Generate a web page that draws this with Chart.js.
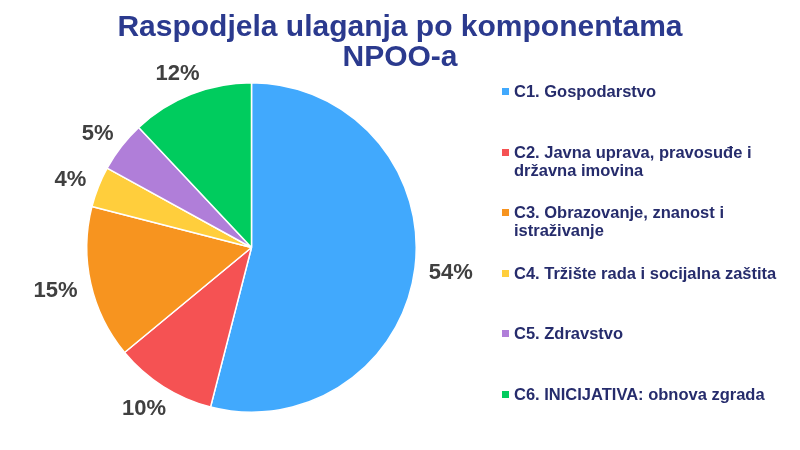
<!DOCTYPE html>
<html>
<head>
<meta charset="utf-8">
<script src="https://cdn.jsdelivr.net/npm/chart.js@4.4.1/dist/chart.umd.min.js"></script>
<style>
  html, body { margin: 0; padding: 0; background: #fff; }
  #wrap { position: relative; width: 800px; height: 450px; overflow: hidden; font-family: "Liberation Sans", Arial, sans-serif; }
  #pieChart { position: absolute; left: 0; top: 0; }
  #title {
    position: absolute; left: 0; top: 11px; width: 800px;
    text-align: center; font-weight: bold; font-size: 30px; line-height: 30px;
    color: #2b3a8e;
  }
  #legend { position: absolute; left: 500px; top: 0; width: 300px; }
  .item { position: absolute; left: 0; width: 290px; }
  .item .box { position: absolute; left: 2px; top: 6px; width: 7px; height: 7px; }
  .item .txt {
    margin-left: 14px; width: 272px;
    font-weight: bold; font-size: 16.5px; line-height: 18px; color: #262c6c;
  }
</style>
</head>
<body>
<div id="wrap">
  <canvas id="pieChart" width="800" height="450"></canvas>
  <div id="title">Raspodjela ulaganja po komponentama<br>NPOO-a</div>
  <div id="legend"></div>
</div>
<script>
  const TITLE = "Raspodjela ulaganja po komponentama NPOO-a";
  const categories = [
    "C1. Gospodarstvo",
    "C2. Javna uprava, pravosuđe i državna imovina",
    "C3. Obrazovanje, znanost i istraživanje",
    "C4. Tržište rada i socijalna zaštita",
    "C5. Zdravstvo",
    "C6. INICIJATIVA: obnova zgrada"
  ];
  const shares = [54, 10, 15, 4, 5, 12];
  const colors = ["#41a9fd", "#f55253", "#f7941f", "#ffce3c", "#b07ed9", "#00cc5e"];

  // ---------------------------
  // Legend (html, so the long names can wrap)
  // ---------------------------
  const legendTop = 82;
  const legendStep = 60.5;
  const legend = document.getElementById("legend");
  categories.forEach((name, i) => {
    const el = document.createElement("div");
    el.className = "item";
    el.style.top = (legendTop + i * legendStep) + "px";
    el.innerHTML = '<span class="box" style="background:' + colors[i] + '"></span><div class="txt">' + name + "</div>";
    legend.appendChild(el);
  });

  // ---------------------------
  // Outside-end percentage labels
  // ---------------------------
  const outsideLabels = {
    id: "outsideLabels",
    afterDatasetsDraw(chart) {
      const ctx = chart.ctx;
      const meta = chart.getDatasetMeta(0);
      ctx.save();
      ctx.font = "bold 22px 'Liberation Sans', Arial, sans-serif";
      ctx.fillStyle = "#404040";
      ctx.textAlign = "center";
      ctx.textBaseline = "middle";
      meta.data.forEach((arc, i) => {
        const p = arc.getProps(["x", "y", "startAngle", "endAngle", "outerRadius"], true);
        const mid = (p.startAngle + p.endAngle) / 2;
        const dx = Math.cos(mid), dy = Math.sin(mid);
        const text = shares[i] + "%";
        const w = ctx.measureText(text).width;
        const r = p.outerRadius + 14;
        const cx = p.x + dx * r + dx * w / 2;
        const cy = p.y + dy * r + dy * 10 + 2;
        ctx.fillText(text, cx, cy);
      });
      ctx.restore();
    }
  };

  new Chart(document.getElementById("pieChart").getContext("2d"), {
    type: "pie",
    data: {
      labels: categories,
      datasets: [{
        data: shares,
        backgroundColor: colors,
        borderColor: "#ffffff",
        borderWidth: 1.5
      }]
    },
    options: {
      responsive: false,
      animation: false,
      layout: { padding: { left: 86, right: 383, top: 82, bottom: 37 } },
      plugins: {
        legend: { display: false },
        title: { display: false, text: TITLE },
        tooltip: { enabled: false }
      }
    },
    plugins: [outsideLabels]
  });
</script>
</body>
</html>
